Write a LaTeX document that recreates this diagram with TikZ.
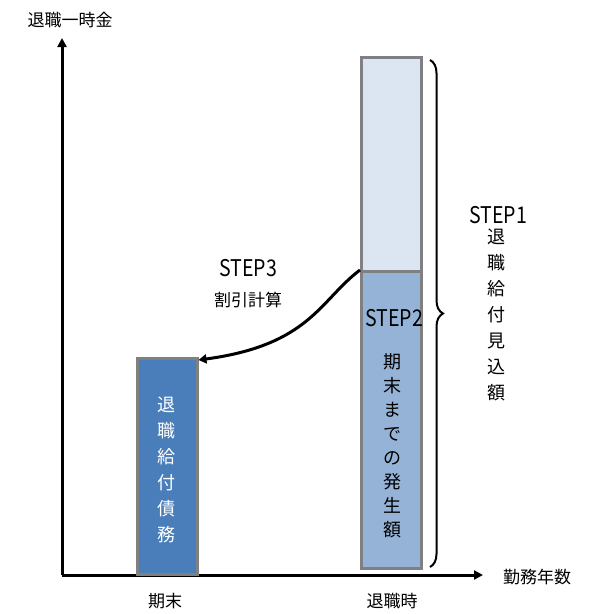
\documentclass[tikz,border=0pt]{standalone}
\usepackage{fontspec}
\setmainfont{Noto Sans CJK JP}
\usetikzlibrary{decorations.pathreplacing,arrows.meta}
\definecolor{darkbar}{HTML}{4A7EBB}
\definecolor{midbar}{HTML}{95B3D7}
\definecolor{lightbar}{HTML}{DCE6F2}
\tikzset{bar/.style={draw=gray,line width=2.5pt},
lbl/.style={font=\fontsize{17}{20}\selectfont},
steplbl/.style={font=\fontsize{23}{24}\selectfont,xscale=0.85},
vtext/.style={align=center,font=\fontsize{18}{26}\selectfont,inner sep=0pt}}
\begin{document}
\begin{tikzpicture}[x=1pt,y=-1pt]
\useasboundingbox (0,0) rectangle (610,614);
\coordinate (o) at (62,575);
\coordinate (ytop) at (62,38);
\coordinate (xend) at (483,575);
\draw[line width=3pt,-{Triangle[length=9pt,width=9pt]}] (o) -- (ytop);
\draw[line width=3pt,-{Triangle[length=9pt,width=9pt]}] (o) -- (xend);
\node[lbl] (ylab) at (70,20) {退職一時金};
\node[lbl] (xlab) at (537,577) {勤務年数};
\node[lbl] (t1) at (165,601) {期末};
\node[lbl] (t2) at (392,601) {退職時};
\node[bar,fill=darkbar,minimum width=60,minimum height=216,inner sep=0,anchor=north west] (lb) at (136,357) {};
\node[vtext,text=white] (lbt) at (166,470) {退\\職\\給\\付\\債\\務};
\node[bar,fill=lightbar,minimum width=60,minimum height=214,inner sep=0,anchor=north west] (rt) at (360,56) {};
\node[bar,fill=midbar,minimum width=60,minimum height=297,inner sep=0,anchor=north west] (rb) at (360,270) {};
\node[steplbl] (s2) at (394,318) {STEP2};
\node[vtext,font=\fontsize{18}{24}\selectfont] (rbt) at (392,446) {期\\末\\ま\\で\\の\\発\\生\\額};
\coordinate (b1) at (430,60);
\coordinate (b2) at (430,567);
\draw[line width=2pt,decorate,decoration={brace,amplitude=13pt}] (b1) -- (b2);
\node[steplbl] (s1) at (498,215) {STEP1};
\node[vtext] (s1t) at (496,315) {退\\職\\給\\付\\見\\込\\額};
\node[steplbl] (s3) at (248,268) {STEP3};
\node[lbl] (s3t) at (248,300) {割引計算};
\draw[line width=3pt,-{Triangle[length=8pt,width=9pt]}] (rb.north west) .. controls (320,300) and (310,345) .. (lb.north east |- 0,360);
\end{tikzpicture}
\end{document}
